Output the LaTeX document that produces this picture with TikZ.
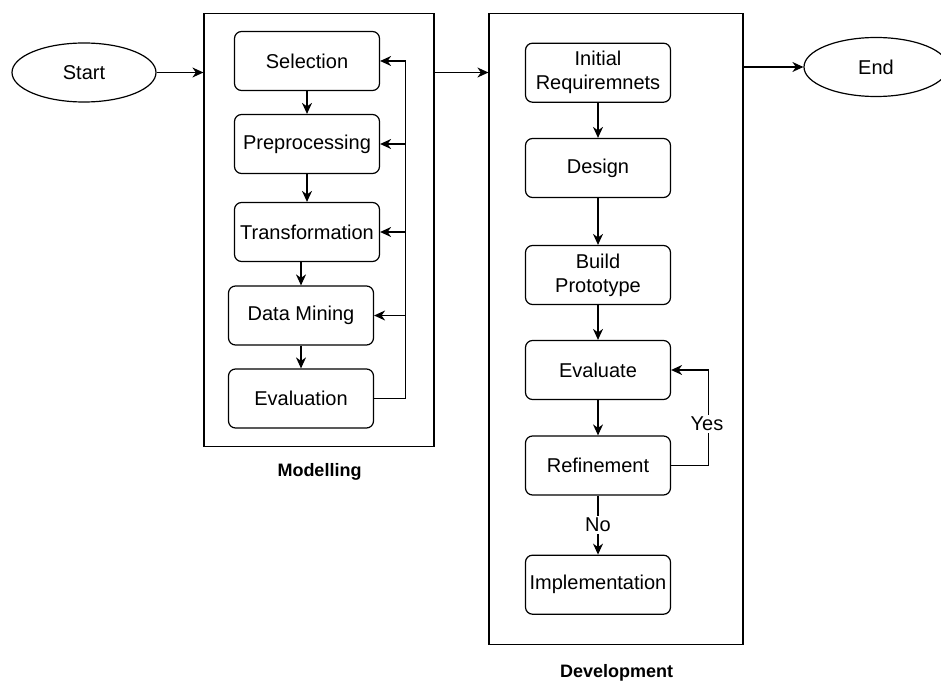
\documentclass[tikz,border=0pt]{standalone}
\usepackage{fontspec}
\setmainfont{Liberation Sans}
\usetikzlibrary{arrows.meta,calc,shapes.geometric}
\begin{document}
\begin{tikzpicture}[x=1bp,y=-1bp,
  every node/.style={font=\fontsize{20bp}{24bp}\selectfont, inner sep=0pt},
  stepbox/.style={draw, line width=1.2bp, rounded corners=7bp, minimum width=145bp, minimum height=59bp, align=center},
  terminal/.style={draw, line width=1.2bp, ellipse, minimum width=144bp, minimum height=59bp},
  frame/.style={draw, line width=1.2bp, rectangle},
  caption/.style={font=\fontsize{18bp}{22bp}\selectfont\bfseries},
  flow/.style={draw, line width=1.2bp, -{Stealth[length=11bp,width=10bp,inset=3.5bp]}},
  tag/.style={fill=white, inner sep=2bp}
]
\useasboundingbox (0,0) rectangle (941,684);

% terminals
\node[terminal] (start) at (84,72.5) {Start};
\node[terminal] (end) at (876,67) {End};

% modelling frame and its steps
\node[frame, minimum width=230bp, minimum height=433bp] (mod) at (319,229.7) {};
\node[stepbox] (sel) at (307,61) {Selection};
\node[stepbox] (prep) at (307,144) {Preprocessing};
\node[stepbox] (trans) at (307,232) {Transformation};
\node[stepbox] (dm) at (301,315.5) {Data Mining};
\node[stepbox] (evaln) at (301,398.5) {Evaluation};
\node[caption] (modlab) at (319.5,472) {Modelling};

% development frame and its steps
\node[frame, minimum width=254bp, minimum height=631bp] (dev) at (616,328.7) {};
\node[stepbox] (init) at (598,72.7) {Initial\\Requiremnets};
\node[stepbox] (design) at (598,168) {Design};
\node[stepbox] (build) at (598,275) {Build\\Prototype};
\node[stepbox] (evl) at (598,370) {Evaluate};
\node[stepbox] (ref) at (598,465.5) {Refinement};
\node[stepbox] (impl) at (598,584.7) {Implementation};
\node[caption] (devlab) at (616.7,673) {Development};

% main flow between the stages
\path[flow] (start.east) -- (start.east -| mod.west);
\path[flow] (mod.east |- start.east) -- (dev.west |- start.east);
\path[flow] (dev.east |- end.west) -- (end.west);

% modelling steps
\path[flow] (sel.south) -- (prep.north);
\path[flow] (prep.south) -- (trans.north);
\path[flow] (trans.south -| dm.north) -- (dm.north);
\path[flow] (dm.south) -- (evaln.north);

% feedback from evaluation to every earlier step
\coordinate (fb) at ($(sel.east)+(25,0)$);
\path[flow] (evaln.east) -| (fb) -- (sel.east);
\path[flow] (fb |- prep.east) -- (prep.east);
\path[flow] (fb |- trans.east) -- (trans.east);
\path[flow] (fb |- dm.east) -- (dm.east);

% development steps
\path[flow] (init.south) -- (design.north);
\path[flow] (design.south) -- (build.north);
\path[flow] (build.south) -- (evl.north);
\path[flow] (evl.south) -- (ref.north);
\path[flow] (ref.south) -- node[tag] (no) {No} (impl.north);

% refinement loop back to evaluation
\coordinate (yl) at ($(ref.east)+(37,0)$);
\path[flow] (ref.east) -- (yl) -- (yl |- evl.east) -- (evl.east);
\node[tag] (yes) at (707,424) {Yes};
\end{tikzpicture}
\end{document}
